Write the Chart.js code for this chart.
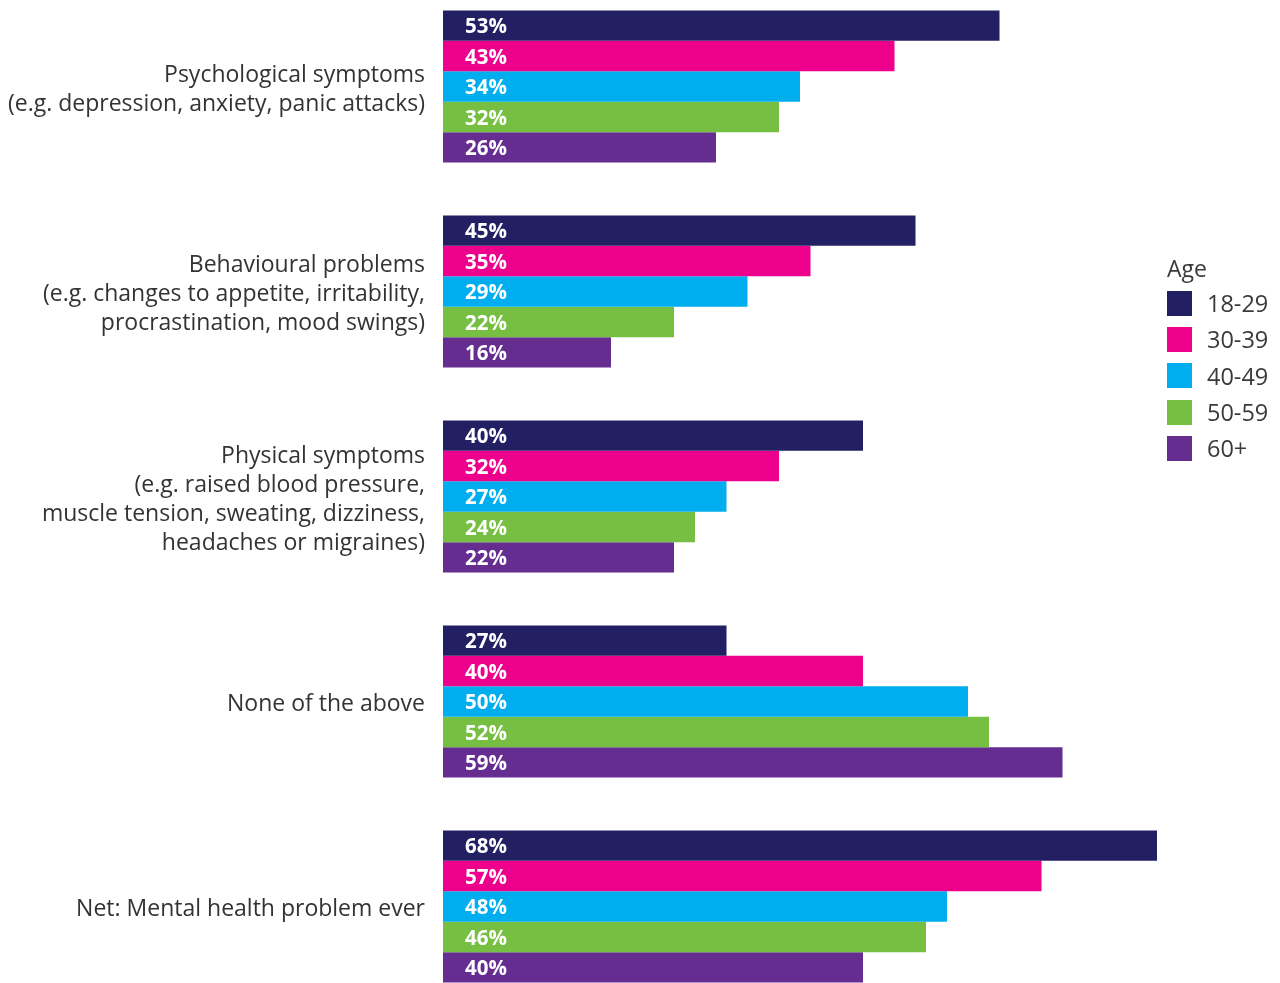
<!DOCTYPE html>
<html>
<head>
<meta charset="utf-8">
<script src="https://cdn.jsdelivr.net/npm/chart.js@4.4.1/dist/chart.umd.min.js"></script>
<style>
  html, body { margin: 0; padding: 0; background: #fff; overflow: hidden; }
  body { width: 1280px; height: 983px; position: relative; }
  #wrap { position: absolute; left: 0; top: -16.5px; width: 1280px; height: 1025px; }
  #legend { position: absolute; left: 1167px; top: 251px; font-family: "Open Sans", sans-serif; color: #3a3a3a; }
  #legend .title { font-size: 23px; line-height: 34px; }
  #legend .item { display: flex; align-items: center; height: 36.3px; font-size: 23.5px; }
  #legend .box { width: 25px; height: 25px; margin-right: 15px; }
</style>
</head>
<body>
<div id="wrap"><canvas id="myChart"></canvas></div>
<div id="legend"></div>
<script>
const categories = [
  ["Psychological symptoms", "(e.g. depression, anxiety, panic attacks)"],
  ["Behavioural problems", "(e.g. changes to appetite, irritability,", "procrastination, mood swings)"],
  ["Physical symptoms", "(e.g. raised blood pressure,", "muscle tension, sweating, dizziness,", "headaches or migraines)"],
  "None of the above",
  "Net: Mental health problem ever",
];
const ageGroups = ["18-29", "30-39", "40-49", "50-59", "60+"];
const colors = ["#221F62", "#EC008C", "#00AEEF", "#76BF43", "#652D90"];

const age18to29 = [53, 45, 40, 27, 68];
const age30to39 = [43, 35, 32, 40, 57];
const age40to49 = [34, 29, 27, 50, 48];
const age50to59 = [32, 22, 24, 52, 46];
const age60plus = [26, 16, 22, 59, 40];
const seriesValues = [age18to29, age30to39, age40to49, age50to59, age60plus];

// labels inside the bars, near the left edge
const barLabels = {
  id: "barLabels",
  afterDatasetsDraw(chart) {
    const ctx = chart.ctx;
    ctx.save();
    ctx.fillStyle = "#fff";
    ctx.font = "bold 20.5px 'Open Sans', sans-serif";
    ctx.textBaseline = "middle";
    ctx.textAlign = "left";
    chart.data.datasets.forEach((ds, i) => {
      chart.getDatasetMeta(i).data.forEach((bar, j) => {
        ctx.fillText(ds.data[j] + "%", bar.base + 22, bar.y + 2);
      });
    });
    ctx.restore();
  },
};

const ctx = document.getElementById("myChart");
new Chart(ctx, {
  type: "bar",
  data: {
    labels: categories,
    datasets: ageGroups.map((g, i) => ({
      label: g,
      data: seriesValues[i],
      backgroundColor: colors[i],
      barPercentage: 1,
      categoryPercentage: 0.742,
    })),
  },
  options: {
    indexAxis: "y",
    responsive: true,
    maintainAspectRatio: false,
    devicePixelRatio: 1,
    animation: false,
    layout: { padding: { left: 0, right: 102, top: 0, bottom: 0 } },
    plugins: {
      legend: { display: false },
      tooltip: { enabled: false },
    },
    scales: {
      x: {
        display: false,
        min: 0,
        max: 70,
      },
      y: {
        grid: { display: false },
        border: { display: false },
        ticks: {
          color: "#333",
          padding: 10,
          labelOffset: 3,
          font: { family: "'Open Sans', sans-serif", size: 23, lineHeight: 1.26 },
        },
        afterFit(scale) {
          scale.width = 443;
          scale.paddingTop = 0;
          scale.paddingBottom = 0;
        },
      },
    },
  },
  plugins: [barLabels],
});

const legend = document.getElementById("legend");
legend.innerHTML = '<div class="title">Age</div>' +
  ageGroups.map((g, i) =>
    '<div class="item"><span class="box" style="background:' + colors[i] + '"></span>' + g + '</div>'
  ).join("");
</script>
</body>
</html>
